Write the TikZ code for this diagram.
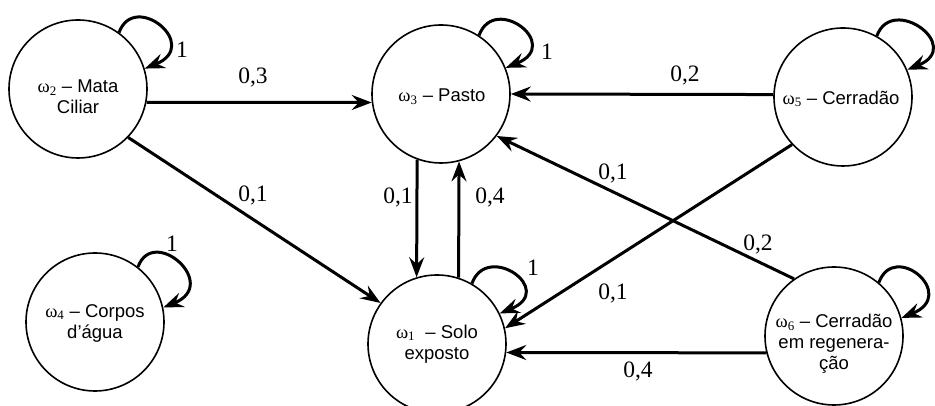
\documentclass[tikz,border=0pt]{standalone}
\usepackage{fontspec}
\setmainfont{Liberation Serif}
\newfontfamily\lsans{Liberation Sans}
\newfontfamily\lserif{Liberation Serif}
\usetikzlibrary{arrows.meta}
\newcommand\om[1]{{\lserif ω\textsubscript{#1}}}
\tikzset{
  state/.style={circle, draw, line width=1.6pt, minimum size=138pt, inner sep=0pt},
  txt/.style={font=\lsans\fontsize{18.5}{21}\selectfont, align=center, inner sep=0pt},
  edge/.style={line width=3pt, -{Stealth[length=20pt,width=15pt,inset=7pt]}},
  selfloop/.style={edge, out=70, in=22, out distance=45pt, in distance=62pt},
  lbl/.style={font=\fontsize{23.5}{26}\selectfont, inner sep=0pt}
}
\begin{document}
\begin{tikzpicture}[x=1pt,y=1pt]
\useasboundingbox (0,0) rectangle (935,406);
% states
\node[state] (n2) at (78,317) {};
\node[state] (n3) at (441,312) {};
\node[state] (n5) at (843,309) {};
\node[state] (n4) at (95,84) {};
\node[state] (n1) at (437,62) {};
\node[state] (n6) at (834,70) {};
% texts
\node[txt] (t2) at (78,309) {\om{2} – Mata\\Ciliar};
\node[txt] (t3) at (442,309) {\om{3} – Pasto};
\node[txt] (t5) at (841,307) {\om{5} – Cerradão};
\node[txt] (t4) at (95,83) {\om{4} – Corpos\\d’água};
\node[txt] (t1) at (437,62) {\om{1} \ – Solo\\exposto};
\node[txt] (t6) at (834,62) {\om{6} – Cerradão\\em regenera-\\ção};
% transitions
\draw[edge] (n2.-11) -- (n3.187);
\draw[edge] (n2.-44) -- (n1.144);
\draw[edge] (n5.178.4) -- (n3.-0.8);
\draw[edge] (n6.125) -- (n3.-37);
\draw[edge] (n5.223) -- (n1.13);
\draw[edge] (n6.194) -- (n1.-7);
\draw[edge] (n3.-110) -- (n1.107);
\draw[edge] (n1.72.5) -- (n3.-75.7);
% self loops
\draw[selfloop] (n2.54) to (n2.17);
\draw[selfloop] (n3.57) to (n3.22);
\draw[selfloop] (n5.61) to (n5.23);
\draw[selfloop] (n4.52) to (n4.12);
\draw[selfloop] (n1.60) to (n1.26);
\draw[selfloop] (n6.50) to (n6.15);
% labels
\node[lbl] (l23) at (253,328) {0,3};
\node[lbl] (l21) at (253,211) {0,1};
\node[lbl] (l53) at (685,330) {0,2};
\node[lbl] (l63a) at (613,232) {0,1};
\node[lbl] (l63b) at (758,162) {0,2};
\node[lbl] (l31) at (398,209) {0,1};
\node[lbl] (l13) at (490,209) {0,4};
\node[lbl] (l51) at (613,113) {0,1};
\node[lbl] (l61) at (638,35) {0,4};
\node[lbl] (s2) at (182,356) {1};
\node[lbl] (s3) at (547,354) {1};
\node[lbl] (s4) at (172,162) {1};
\node[lbl] (s1) at (533,138) {1};
\end{tikzpicture}
\end{document}
